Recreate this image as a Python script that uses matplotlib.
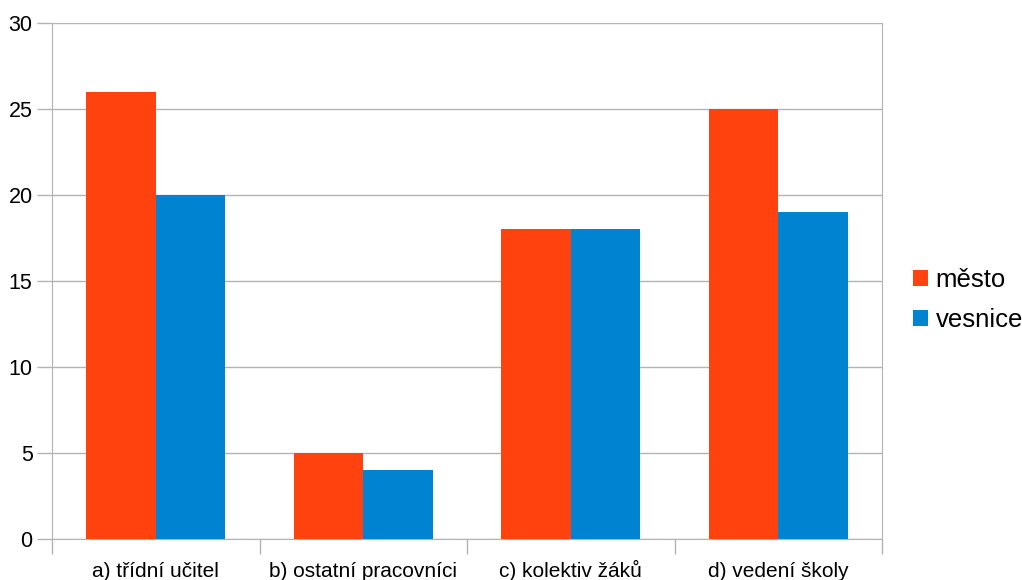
import numpy as np
import matplotlib.pyplot as plt

categories = ['a) třídní učitel', 'b) ostatní pracovníci', 'c) kolektiv žáků', 'd) vedení školy']
mesto = [26, 5, 18, 25]
vesnice = [20, 4, 18, 19]

plt.rcParams['font.family'] = ['Liberation Sans', 'DejaVu Sans']

fig = plt.figure(figsize=(10.22, 5.8), dpi=100)
ax = fig.add_axes([52 / 1022, 41 / 580, 830 / 1022, 516 / 580])

x = np.arange(len(categories))
w = 0.335
ax.bar(x - w / 2, mesto, width=w, color='#ff420e', label='město', zorder=3)
ax.bar(x + w / 2, vesnice, width=w, color='#0084d1', label='vesnice', zorder=3)

ax.set_xlim(-0.5, len(categories) - 0.5)
ax.set_ylim(0, 30)
ax.set_yticks(range(0, 31, 5))
ax.yaxis.grid(True, color='#b3b3b3', linewidth=1, zorder=0)

ax.set_xticks(x)
ax.set_xticklabels(categories, va='baseline')
ax.set_xticks(np.arange(-0.5, len(categories)), minor=True)
ax.tick_params(axis='x', which='major', length=0, pad=27.5, labelsize=15)
ax.tick_params(axis='x', which='minor', length=11, color='#b3b3b3', width=1)
ax.tick_params(axis='y', length=11, color='#b3b3b3', width=1, labelsize=15.5, pad=3)

for s in ['left', 'bottom', 'right']:
    ax.spines[s].set_color('#b3b3b3')
ax.spines['top'].set_visible(False)

ax.legend(loc='center left', bbox_to_anchor=((913 - 52) / 830, (539 - 300) / 516),
          frameon=False, borderpad=0, borderaxespad=0,
          fontsize=18.5, handlelength=0.58, handleheight=0.58, handletextpad=0.3,
          labelspacing=0.6)

fig.savefig('out.png', dpi=100)
